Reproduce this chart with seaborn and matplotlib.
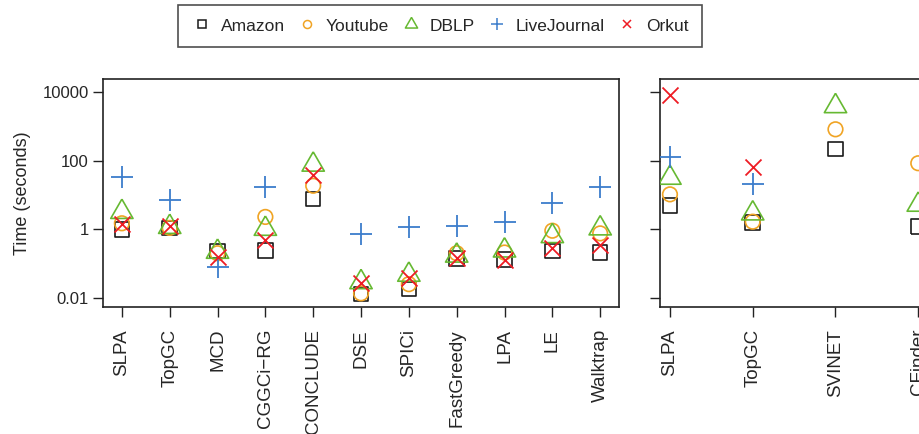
import numpy as np
import pandas as pd
import matplotlib.pyplot as plt
import seaborn as sns
from matplotlib.lines import Line2D

# Algoritmos em cada painel
left_algos = ['SLPA', 'TopGC', 'MCD', 'CGGCi\u2212RG', 'CONCLUDE', 'DSE', 'SPICi',
              'FastGreedy', 'LPA', 'LE', 'Walktrap']
right_algos = ['SLPA', 'TopGC', 'SVINET', 'CFinder']

nan = np.nan

# Tempos (segundos) - painel esquerdo
amazon_left = [0.98, 1.1, 0.23, 0.24, 7.7, 0.013, 0.018, 0.14, 0.13, 0.23, 0.21]
youtube_left = [1.5, 1.1, 0.2, 2.3, 18.7, 0.0135, 0.025, 0.2, 0.21, 0.91, 0.76]
dblp_left = [3.2, 1.17, 0.22, 1.03, 77, 0.0285, 0.047, 0.17, 0.24, 0.63, 1.06]
livejournal_left = [34, 7.2, 0.081, 17.5, nan, 0.73, 1.19, 1.27, 1.6, 5.7, 17.5]
orkut_left = [1.43, 1.24, 0.16, 0.49, 38, 0.0275, 0.037, 0.15, 0.126, 0.28, 0.35]

# Painel direito
amazon_right = [5.0, 1.6, 224, 1.2]
youtube_right = [10.5, 1.67, 832, 85]
dblp_right = [31.9, 2.9, 3930, 5.2]
livejournal_right = [126, 21, nan, nan]
orkut_right = [8300, 65, nan, nan]

datasets = ['Amazon', 'Youtube', 'DBLP', 'LiveJournal', 'Orkut']
colors = ['#1a1a1a', '#F0A424', '#66B932', '#3C7DCB', '#EE1C24']

# triangulo no estilo do R (centro no baricentro)
tri = [(0, 1.555), (1.347, -0.778), (-1.347, -0.778), (0, 1.555)]
markers = ['s', 'o', tri, '+', 'x']
sizes = [10.5, 10.5, 18.5, 16.5, 11.5]
hollow = [True, True, True, False, False]

left_vals = [amazon_left, youtube_left, dblp_left, livejournal_left, orkut_left]
right_vals = [amazon_right, youtube_right, dblp_right, livejournal_right, orkut_right]


def long_table(algos, vals):
    rows = []
    for name, serie in zip(datasets, vals):
        for i, (algo, v) in enumerate(zip(algos, serie)):
            rows.append({'pos': i, 'algo': algo, 'dataset': name, 'time': v})
    return pd.DataFrame(rows).dropna()


sns.set_theme(style='ticks')
plt.rcParams['font.family'] = ['Liberation Sans', 'DejaVu Sans']
plt.rcParams['axes.edgecolor'] = '#222222'
plt.rcParams['axes.linewidth'] = 1.2

fig = plt.figure(figsize=(9.19, 4.34), dpi=100)
ax1 = fig.add_axes([0.1118, 0.2933, 0.5621, 0.5253])
ax2 = fig.add_axes([0.7182, 0.2933, 0.2918, 0.5253])

for ax, algos, vals in [(ax1, left_algos, left_vals), (ax2, right_algos, right_vals)]:
    df = long_table(algos, vals)
    for name, c, m, ms, h in zip(datasets, colors, markers, sizes, hollow):
        sub = df[df['dataset'] == name]
        if h:
            sns.scatterplot(data=sub, x='pos', y='time', ax=ax, marker=m, s=ms ** 2,
                            color=c, facecolor='none', edgecolor=c, linewidth=1.2,
                            legend=False, zorder=3)
        else:
            sns.scatterplot(data=sub, x='pos', y='time', ax=ax, marker=m, s=ms ** 2,
                            color=c, linewidth=1.3, legend=False, zorder=3)
    ax.set_yscale('log')
    ax.set_ylim(10 ** -2.26, 10 ** 4.397)
    n = len(algos)
    ext = 0.04 * (n - 1)
    ax.set_xlim(-ext, n - 1 + ext)
    ax.set_xticks(range(n))
    ax.set_xticklabels(algos, rotation=90, fontsize=13.5)
    ax.set_yticks([0.01, 1, 100, 10000])
    ax.minorticks_off()
    ax.tick_params(axis='both', length=7, width=1.0, color='#222222')
    ax.tick_params(axis='x', pad=9)
    ax.tick_params(axis='y', pad=3)
    ax.set_xlabel('')
    ax.set_ylabel('')
    for sp in ax.spines.values():
        sp.set_visible(True)

ax1.set_yticklabels(['0.01', '1', '100', '10000'], fontsize=12)
ax2.set_yticklabels([])
ax2.spines['right'].set_visible(False)
ax1.set_ylabel('Time (seconds)', fontsize=13, labelpad=8)

handles = [Line2D([], [], linestyle='none', marker=m, markersize=ms * 0.55,
                  markerfacecolor='none', markeredgecolor=c, markeredgewidth=1.1)
           for c, m, ms in zip(colors, markers, sizes)]
leg = fig.legend(handles, datasets, loc='center', bbox_to_anchor=(440 / 919, 1 - 26 / 434),
                 ncol=5, frameon=True, fontsize=12.5, handletextpad=0.5, columnspacing=0.65,
                 fancybox=False, borderpad=0.8, handlelength=1.2)
leg.get_frame().set_edgecolor('#222222')
leg.get_frame().set_linewidth(1.2)

fig.savefig('out.png', dpi=100)
